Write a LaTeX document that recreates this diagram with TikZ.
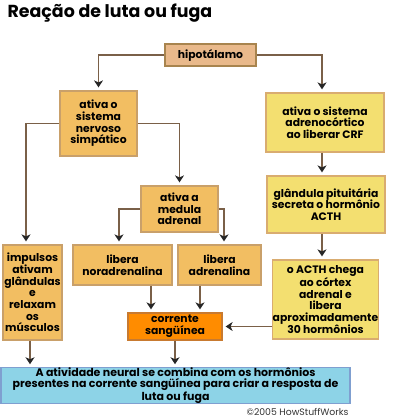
\documentclass[tikz,border=0pt]{standalone}
\usepackage{fontspec}
\setmainfont{Poppins}
\usepackage{tikz}
\usetikzlibrary{arrows.meta,positioning}

\definecolor{hipfill}{HTML}{E9B98B}
\definecolor{hipline}{HTML}{A8844E}
\definecolor{tanfill}{HTML}{F2BE62}
\definecolor{tanline}{HTML}{C9A06A}
\definecolor{yelfill}{HTML}{F3DF70}
\definecolor{yelline}{HTML}{D9AC70}
\definecolor{orfill}{HTML}{FF8C00}
\definecolor{orline}{HTML}{C87A30}
\definecolor{bluefill}{HTML}{8DD3E7}
\definecolor{blueline}{HTML}{7F9FD0}
\definecolor{arrline}{HTML}{7A6048}

\begin{document}
\begin{tikzpicture}[x=1pt,y=-1pt,
  box/.style={draw,line width=1.2pt,font=\bfseries\fontsize{10.8}{11.7}\selectfont,align=center,inner sep=0pt},
  hipbox/.style={box,fill=hipfill,draw=hipline},
  tanbox/.style={box,fill=tanfill,draw=tanline},
  yelbox/.style={box,fill=yelfill,draw=yelline},
  orbox/.style={box,fill=orfill,draw=orline},
  bluebox/.style={box,fill=bluefill,draw=blueline},
  arr/.style={draw=arrline,line width=1.5pt,shorten >=3pt,-{Stealth[length=7pt,width=9pt,inset=2pt,color=black!85]}}]
\useasboundingbox (0,0) rectangle (400,420);
\node[font=\bfseries\fontsize{17.4}{19}\selectfont,anchor=west] (title) at (4,13) {Reação de luta ou fuga};
\node[hipbox,minimum width=91pt,minimum height=22pt] (hip) at (210.5,55) {hipotálamo};
\node[tanbox,minimum width=77pt,minimum height=65pt] (sns) at (98.5,123.5) {ativa o\\sistema\\nervoso\\simpático};
\node[yelbox,minimum width=118pt,minimum height=59pt] (crf) at (325,122.5) {ativa o sistema\\adrenocórtico\\ao liberar CRF};
\node[tanbox,minimum width=77pt,minimum height=46pt] (med) at (179.5,209) {ativa a\\medula\\adrenal};
\node[yelbox,minimum width=118pt,minimum height=57pt] (pit) at (326,204.5) {glândula pituitária\\secreta o hormônio\\ACTH};
\node[tanbox,minimum width=59pt,minimum height=95pt] (imp) at (32.5,292.5) {impulsos\\ativam\\glândulas\\e\\relaxam\\os\\músculos};
\node[tanbox,minimum width=99pt,minimum height=40pt] (nor) at (122.5,265) {libera\\noradrenalina};
\node[tanbox,minimum width=83pt,minimum height=40pt] (adr) at (219.5,265) {libera\\adrenalina};
\node[yelbox,minimum width=101pt,minimum height=79pt] (acth) at (325.5,299.5) {o ACTH chega\\ao córtex\\adrenal e\\libera\\aproximadamente\\30 hormônios};
\node[orbox,minimum width=94pt,minimum height=27pt] (cor) at (175,326.5) {corrente\\sangüínea};
\node[bluebox,minimum width=349pt,minimum height=33pt,font=\bfseries\fontsize{11}{10.8}\selectfont] (res) at (175.5,385.5) {A atividade neural se combina com os hormônios\\presentes na corrente sangüínea para criar a resposta de\\luta ou fuga};
\node[font=\fontsize{9.3}{10}\selectfont,text=black!80,anchor=east] (copy) at (352,412) {©2005 HowStuffWorks};
% hipotálamo
\draw[arr] (hip.west) -| (sns.north);
\draw[arr] (hip.east) -| ([xshift=-3pt]crf.north);
% sistema nervoso
\draw[arr] (sns.west) -| ([xshift=-6.5pt]imp.north);
\draw[arr] (sns.east) -| (med.north);
\draw[arr] (med.west) -| ([xshift=-3.5pt]nor.north);
\draw[arr] (med.east) -| ([xshift=4.5pt]adr.north);
\draw[arr] ([xshift=28.5pt]nor.south) -- ([xshift=-24pt]cor.north);
\draw[arr] ([xshift=-19.5pt]adr.south) -- ([xshift=25pt]cor.north);
% eixo adrenocortical
\draw[arr] ([xshift=-3pt]crf.south) -- ([xshift=-4pt]pit.north);
\draw[arr] ([xshift=-4pt]pit.south) -- ([xshift=-3.5pt]acth.north);
\draw[arr] (acth.west |- cor.east) -- (cor.east);
% resposta
\draw[arr] ([xshift=-2.5pt]imp.south) -- ([xshift=-2.5pt]imp.south |- res.north);
\draw[arr] (cor.south) -- (cor.south |- res.north);
\end{tikzpicture}
\end{document}
